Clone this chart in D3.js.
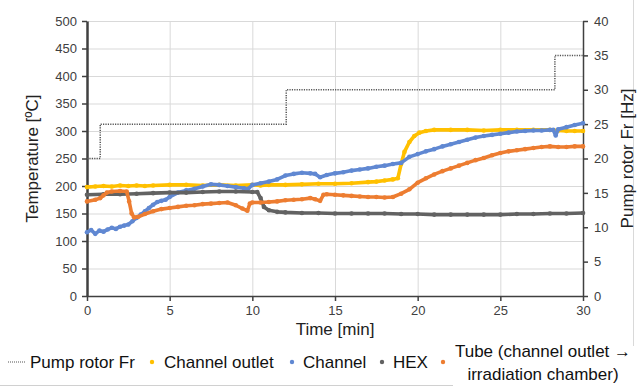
<!DOCTYPE html>
<html>
<head>
<meta charset="utf-8">
<script src="https://cdn.jsdelivr.net/npm/d3@7"></script>
<style>
  html, body { margin: 0; padding: 0; background: #fff; }
  svg { display: block; font-family: "Liberation Sans", Arial, sans-serif; }
</style>
</head>
<body>
<svg id="chart" width="640" height="388"></svg>
<script>
// Pump rotor frequency (step profile, right axis)
const pumpTime = [0, 0.8, 0.8, 12.05, 12.05, 28.3, 28.3, 30];
const pumpHz   = [20, 20, 25, 25, 30, 30, 35, 35];

// Channel outlet temperature
const outletTime = [0,0.5,1,1.5,2,2.5,3,3.5,4,5,6,7,8,9,10,10.5,11,12,13,14,15,16,17,17.5,18,18.5,18.8,19.0,19.2,19.5,19.8,20.1,20.5,21,22,23,24,25,26,27,28,28.5,29,29.5,30];
const outletTemp = [198,199,200,199,201,200,201,200,201,202,202,201,202,201,202,201,202,202,203,204,204,205,207,208,210,212,214,240,262,280,291,297,300,302,302,302,301,302,302,302,302,301,300,300,300];

// Channel temperature
const channelTime = [0,0.25,0.5,0.75,1,1.25,1.5,1.75,2,2.25,2.5,2.75,3,3.25,3.5,3.75,4,4.25,4.5,4.75,5,5.5,6,6.5,7,7.5,8,8.5,9,9.5,9.75,10,10.5,11,11.5,12,12.5,13,13.5,13.8,14.1,14.5,15,15.5,16,16.5,17,17.5,18,18.5,19,19.5,20,20.5,21,21.5,22,22.5,23,23.5,24,24.5,25,25.5,26,26.5,27,27.5,28,28.2,28.35,28.5,29,29.5,30];
const channelTemp = [116,120,113,119,117,121,124,122,126,128,130,136,142,148,154,160,166,171,173,175,180,188,192,195,199,203,202,200,198,196,195,202,205,208,212,219,222,224,223,222,216,220,223,225,228,230,232,235,237,240,242,253,258,263,267,272,276,280,284,288,291,293,295,297,299,300,301,301,302,302,292,303,307,311,314];

// HEX temperature
const hexTime = [0,1,2,3,4,5,6,7,8,9,10,10.3,10.5,10.7,11,11.5,12,13,14,15,16,17,18,19,20,21,22,23,24,25,26,27,28,29,30];
const hexTemp = [184,185,185,186,187,188,188,189,190,190,189,189,178,162,156,153,152,151,151,150,150,150,150,149,149,148,148,148,148,148,149,149,150,150,151];

// Tube (channel outlet -> irradiation chamber) temperature
const tubeTime = [0,0.5,0.8,1.0,1.2,1.5,2,2.4,2.55,2.7,2.85,3.1,3.5,4,4.5,5,5.5,6,6.5,7,7.5,8,8.5,9,9.4,9.7,9.85,10,10.5,11,11.5,12,12.5,13,13.5,13.8,14.1,14.3,14.5,15,15.5,16,16.5,17,17.5,18,18.5,19,19.5,20,20.5,21,21.5,22,22.5,23,23.5,24,24.5,25,25.5,26,26.5,27,27.5,28,28.5,29,29.5,30];
const tubeTemp = [172,175,178,183,188,190,191,190,172,150,143,144,149,154,158,160,162,164,165,167,168,169,170,165,159,155,168,170,170,171,172,174,175,176,178,176,173,184,185,184,183,182,181,180,180,179,180,186,194,206,214,221,227,232,237,242,247,251,256,260,263,265,267,269,271,272,271,271,272,272];

const timeTicks = [0, 5, 10, 15, 20, 25, 30];
const tempTicks = [0, 50, 100, 150, 200, 250, 300, 350, 400, 450, 500];
const hzTicks   = [0, 5, 10, 15, 20, 25, 30, 35, 40];

const series = [
  { name: "Channel outlet", color: "#FFC000", t: outletTime, v: outletTemp },
  { name: "Channel",        color: "#6088d2", t: channelTime, v: channelTemp },
  { name: "HEX",            color: "#626262", t: hexTime, v: hexTemp },
  { name: "Tube",           color: "#ED7D31", t: tubeTime, v: tubeTemp }
];

const svg = d3.select("#chart");
const plot = { left: 87, right: 583, top: 21, bottom: 296 };

const x  = d3.scaleLinear().domain([0, 30]).range([plot.left, plot.right]);
const y  = d3.scaleLinear().domain([0, 500]).range([plot.bottom, plot.top]);
const y2 = d3.scaleLinear().domain([0, 40]).range([plot.bottom, plot.top]);

svg.append("rect").attr("width", 640).attr("height", 388).attr("fill", "#fff");

// outer frame pieces
svg.append("line").attr("x1", 633.5).attr("x2", 633.5).attr("y1", 0).attr("y2", 346)
  .attr("stroke", "#d9d9d9").attr("stroke-width", 1);
svg.append("line").attr("x1", 0).attr("x2", 453).attr("y1", 385.5).attr("y2", 385.5)
  .attr("stroke", "#d0d0d0").attr("stroke-width", 1);

// gridlines
const grid = svg.append("g");
grid.selectAll(".hg").data(tempTicks.filter(d => d > 0)).join("line")
  .attr("x1", plot.left).attr("x2", plot.right)
  .attr("y1", d => y(d) + 0.5).attr("y2", d => y(d) + 0.5)
  .attr("stroke", "#d9d9d9").attr("stroke-width", 1);
grid.selectAll(".vg").data(timeTicks.filter(d => d > 0 && d < 30)).join("line")
  .attr("x1", d => x(d) + 0.5).attr("x2", d => x(d) + 0.5)
  .attr("y1", plot.top).attr("y2", plot.bottom)
  .attr("stroke", "#d9d9d9").attr("stroke-width", 1);

// axes
const styleAxis = (g, w) => {
  g.select(".domain").attr("stroke", "#404040").attr("stroke-width", w);
  g.selectAll(".tick line").attr("stroke", "#404040").attr("stroke-width", 1.5);
  g.selectAll(".tick text").attr("fill", "#404040").style("font-size", "13px")
    .style("font-family", "Liberation Sans, Arial, sans-serif");
};

const xAxis = svg.append("g").attr("transform", `translate(0,${plot.bottom})`)
  .call(d3.axisBottom(x).tickValues(timeTicks).tickSize(5).tickSizeOuter(0).tickPadding(5));
styleAxis(xAxis, 1.5);

const yAxis = svg.append("g").attr("transform", `translate(${plot.left},0)`)
  .call(d3.axisLeft(y).tickValues(tempTicks).tickSize(5).tickSizeOuter(0).tickPadding(5));
styleAxis(yAxis, 2.5);

const y2Axis = svg.append("g").attr("transform", `translate(${plot.right},0)`)
  .call(d3.axisRight(y2).tickValues(hzTicks).tickSize(5).tickSizeOuter(0).tickPadding(6));
styleAxis(y2Axis, 1.5);

// axis titles
svg.append("text").attr("x", x(15)).attr("y", 335)
  .attr("text-anchor", "middle").attr("fill", "#222").style("font-size", "17px")
  .text("Time [min]");
svg.append("text").attr("transform", `translate(38,${(plot.top + plot.bottom) / 2}) rotate(-90)`)
  .attr("text-anchor", "middle").attr("fill", "#222").style("font-size", "17px")
  .text("Temperature [ºC]");
svg.append("text").attr("transform", `translate(633,${(plot.top + plot.bottom) / 2}) rotate(-90)`)
  .attr("text-anchor", "middle").attr("fill", "#222").style("font-size", "17px")
  .text("Pump rotor Fr [Hz]");

// pump frequency step line
const pumpLine = d3.line().x(d => x(d[0])).y(d => y2(d[1]));
svg.append("path")
  .datum(pumpTime.map((t, i) => [t, pumpHz[i]]))
  .attr("d", pumpLine).attr("fill", "none")
  .attr("stroke", "#555").attr("stroke-width", 1.5).attr("stroke-dasharray", "1.2,1.2");

// temperature series: dense markers joined by a thick trace
const tempLine = d3.line().x(d => x(d[0])).y(d => y(d[1]));
series.forEach(s => {
  const pts = s.t.map((t, i) => [t, s.v[i]]);
  const g = svg.append("g");
  g.append("path").datum(pts).attr("d", tempLine)
    .attr("fill", "none").attr("stroke", s.color).attr("stroke-width", 3.6)
    .attr("stroke-linejoin", "round").attr("stroke-linecap", "round");
  g.selectAll("circle").data(pts).join("circle")
    .attr("cx", d => x(d[0])).attr("cy", d => y(d[1])).attr("r", 2.3)
    .attr("fill", s.color);
});

// legend
const lg = svg.append("g").style("font-size", "17px").attr("fill", "#111");
lg.append("line").attr("x1", 8).attr("x2", 26).attr("y1", 362).attr("y2", 362)
  .attr("stroke", "#555").attr("stroke-width", 1.2).attr("stroke-dasharray", "1,1");
lg.append("text").attr("x", 30).attr("y", 368).text("Pump rotor Fr");

const legendItems = [
  { dot: 152, tx: 164, label: "Channel outlet", color: series[0].color },
  { dot: 292, tx: 303, label: "Channel",        color: series[1].color },
  { dot: 382, tx: 393, label: "HEX",            color: series[2].color }
];
legendItems.forEach(it => {
  lg.append("circle").attr("cx", it.dot).attr("cy", 362).attr("r", 2.2).attr("fill", it.color);
  lg.append("text").attr("x", it.tx).attr("y", 368).text(it.label);
});
lg.append("circle").attr("cx", 443).attr("cy", 362).attr("r", 2.2).attr("fill", series[3].color);
lg.append("text").attr("x", 543).attr("y", 357).attr("text-anchor", "middle").text("Tube (channel outlet →");
lg.append("text").attr("x", 543).attr("y", 380).attr("text-anchor", "middle").text("irradiation chamber)");
</script>
</body>
</html>
